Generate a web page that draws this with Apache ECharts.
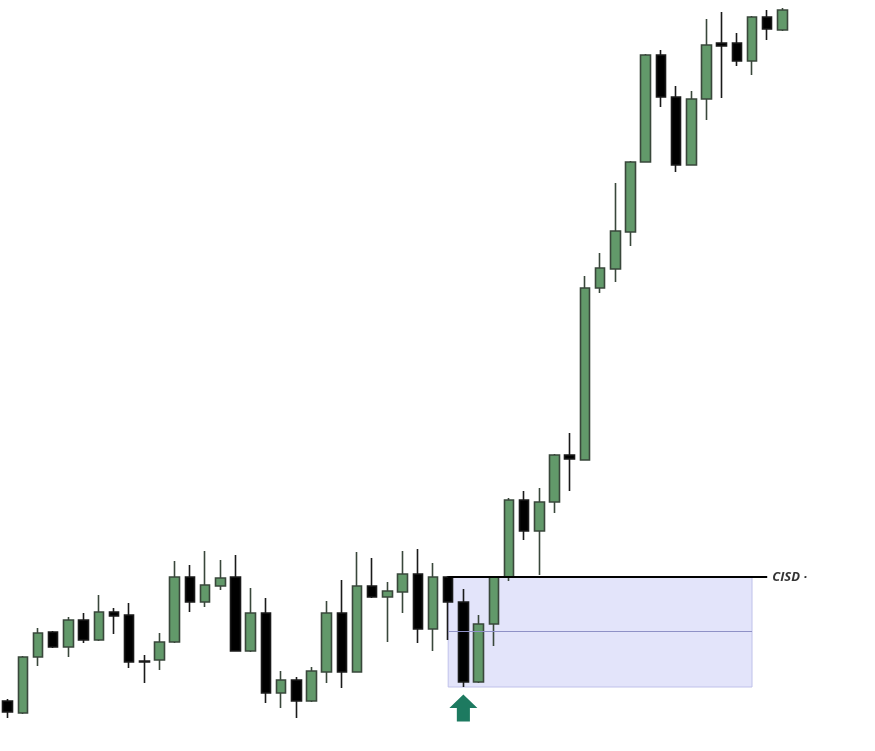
<!DOCTYPE html>
<html>
<head>
<meta charset="utf-8">
<script src="https://cdn.jsdelivr.net/npm/echarts@6/dist/echarts.min.js"></script>
<style>
html,body{margin:0;padding:0;background:#fff;}
#c{width:875px;height:751px;}
</style>
</head>
<body>
<div id="c"></div>
<script>
// Candle values (price units)
const opens  = [50,38,94,119,104,131,111,139,136,90,91,109,174,149,165,174,100,138,58,71,50,79,138,79,165,154,159,177,122,174,149,69,127,174,251,220,249,296,291,463,482,519,589,696,654,586,652,708,708,690,734,721];
const closes = [39,94,118,104,131,111,139,135,89,89,109,174,149,166,173,100,138,58,71,50,80,138,79,165,154,160,177,122,174,149,69,127,174,251,220,249,296,292,463,483,520,589,696,654,586,652,706,705,690,734,722,741];
const lows   = [33,37,85,103,94,108,110,117,83,68,81,108,139,144,161,100,99,48,43,33,49,68,63,79,153,109,138,108,100,111,64,68,105,170,211,176,238,260,291,458,469,505,589,644,579,586,631,653,685,676,711,720];
const highs  = [52,95,123,120,134,138,156,143,148,96,118,190,186,200,191,196,163,153,80,74,84,150,171,199,193,169,200,202,188,175,162,136,175,253,260,263,297,318,475,498,568,590,697,701,665,660,732,739,718,735,741,743];
const categories = opens.map((_, i) => String(i + 1));

// Annotation levels
const cisdLevel = 174;      // CISD line
const boxTop = 174, boxBottom = 64, boxMid = 120;
const boxStart = 29, boxEnd = 49, cisdEnd = 50;
const arrowIndex = 30, arrowLevel = 43;

const candleData = opens.map((o, i) => [o, closes[i], lows[i], highs[i]]);

const chart = echarts.init(document.getElementById('c'));
chart.setOption({
  backgroundColor: '#ffffff',
  animation: false,
  grid: {left: 0, right: 85, top: 0, bottom: 0},
  xAxis: {type: 'category', data: categories, show: false, boundaryGap: true},
  yAxis: {type: 'value', min: 0, max: 751, show: false, splitLine: {show: false}},
  series: [
    {
      type: 'line',
      data: [],
      z: 1,
      silent: true,
      markArea: {
        silent: true,
        itemStyle: {color: 'rgba(208,210,246,0.6)', borderColor: '#bfc1ea', borderWidth: 1},
        data: [[{coord: [boxStart, boxTop]}, {coord: [boxEnd, boxBottom]}]]
      },
      markLine: {
        silent: true,
        symbol: 'none',
        label: {show: false},
        lineStyle: {color: '#8f91c6', width: 1.2, type: 'solid'},
        data: [[{coord: [boxStart, boxMid]}, {coord: [boxEnd, boxMid]}]]
      }
    },
    {
      type: 'candlestick',
      z: 3,
      data: candleData,
      barWidth: 10,
      itemStyle: {
        color: '#62996a',
        color0: '#000000',
        borderColor: '#39473b',
        borderColor0: '#1a1a1a',
        borderWidth: 1.6
      },
      markLine: {
        silent: true,
        symbol: 'none',
        lineStyle: {color: '#000000', width: 2, type: 'solid'},
        label: {
          show: true,
          position: 'end',
          formatter: 'CISD \u00b7',
          color: '#333333',
          fontStyle: 'italic',
          fontWeight: 'bold',
          fontSize: 13,
          fontFamily: 'Open Sans, sans-serif',
          distance: 5
        },
        data: [[{coord: [boxStart, cisdLevel]}, {coord: [cisdEnd, cisdLevel]}]]
      },
      markPoint: {
        silent: true,
        symbol: 'path://M15,0 L30,14 L22,14 L22,28 L8,28 L8,14 L0,14 Z',
        symbolSize: [28, 27],
        itemStyle: {color: '#1d7a60'},
        label: {show: false},
        data: [{coord: [arrowIndex, arrowLevel]}]
      }
    }
  ]
});
</script>
</body>
</html>
